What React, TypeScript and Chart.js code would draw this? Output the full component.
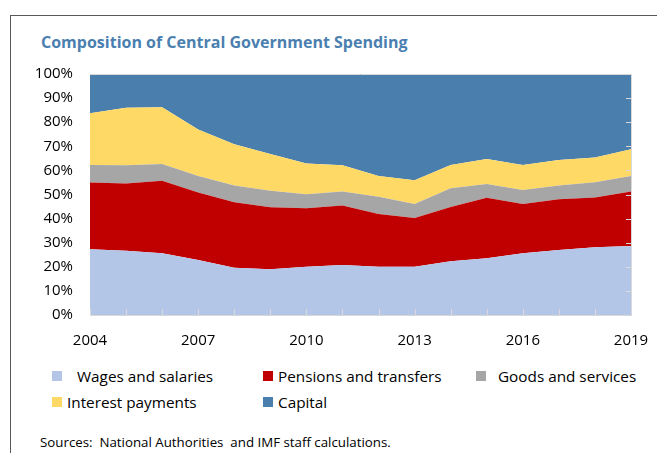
import React, { useEffect, useRef } from "react";
import { Chart, registerables } from "chart.js";

Chart.register(...registerables);

const years = ["2004","2005","2006","2007","2008","2009","2010","2011","2012","2013","2014","2015","2016","2017","2018","2019"];
const wages =     [27.3, 26.7, 25.6, 22.8, 19.6, 19.0, 20.0, 20.7, 20.0, 20.0, 22.3, 23.5, 25.6, 27.0, 28.1, 28.6];
const pensions =  [27.7, 27.9, 30.1, 28.0, 27.2, 25.7, 24.3, 24.7, 21.9, 20.2, 22.5, 25.2, 20.5, 21.0, 20.7, 22.6];
const goods =     [7.2, 7.5, 7.0, 6.9, 6.9, 6.9, 5.8, 5.8, 7.2, 5.9, 7.8, 5.7, 5.8, 5.7, 6.3, 6.5];
const interest =  [21.5, 23.9, 23.5, 19.3, 17.1, 15.2, 12.8, 10.9, 8.6, 9.8, 9.6, 10.3, 10.3, 10.6, 10.3, 11.1];
const capital =   [16.3, 14.0, 13.8, 23.0, 29.2, 33.2, 37.1, 37.9, 42.3, 44.1, 37.8, 35.3, 37.8, 35.7, 34.6, 31.2];

const seriesNames = ["Wages and salaries", "Pensions and transfers", "Goods and services", "Interest payments", "Capital"];
const seriesColors = ["#B4C6E7", "#C00000", "#A6A6A6", "#FFD966", "#4A7EAD"];
const seriesValues = [wages, pensions, goods, interest, capital];
const yTicks = [0, 10, 20, 30, 40, 50, 60, 70, 80, 90, 100];
const xLabelEvery = 3;

const FONT = "'Open Sans', 'Noto Sans', sans-serif";

const frameTicks = {
  id: "frameTicks",
  afterDatasetsDraw(chart: any) {
    const { ctx, chartArea } = chart;
    const xs = chart.scales.x;
    const ys = chart.scales.y;
    ctx.save();
    ctx.strokeStyle = "#D9D9D9";
    ctx.lineWidth = 1;
    ctx.beginPath();
    ctx.moveTo(chartArea.left, Math.round(ys.getPixelForValue(100)) + 0.5);
    ctx.lineTo(chartArea.right, Math.round(ys.getPixelForValue(100)) + 0.5);
    ctx.moveTo(chartArea.left, Math.round(ys.getPixelForValue(0)) + 0.5);
    ctx.lineTo(chartArea.right + 1, Math.round(ys.getPixelForValue(0)) + 0.5);
    ctx.moveTo(Math.round(chartArea.right) + 0.5, chartArea.top);
    ctx.lineTo(Math.round(chartArea.right) + 0.5, chartArea.bottom);
    for (let i = 0; i < years.length; i++) {
      const px = Math.round(xs.getPixelForValue(i)) + 0.5;
      const py = ys.getPixelForValue(0);
      ctx.moveTo(px, py);
      ctx.lineTo(px, py - 6);
    }
    for (const t of yTicks) {
      const py = Math.round(ys.getPixelForValue(t)) + 0.5;
      ctx.moveTo(chartArea.right, py);
      ctx.lineTo(chartArea.right - 5, py);
    }
    ctx.stroke();
    ctx.restore();
  },
};

export default function App() {
  const ref = useRef<HTMLCanvasElement | null>(null);

  useEffect(() => {
    document.body.style.margin = "0";
    document.body.style.overflow = "hidden";
    const canvas = ref.current;
    if (!canvas) return;
    const chart = new Chart(canvas, {
      type: "line",
      data: {
        labels: years,
        datasets: seriesValues.map((vals, i) => ({
          label: seriesNames[i],
          data: vals,
          backgroundColor: seriesColors[i],
          borderColor: seriesColors[i],
          borderWidth: 0,
          pointRadius: 0,
          tension: 0,
          fill: i === 0 ? "origin" : "-1",
        })),
      },
      options: {
        animation: false,
        responsive: false,
        devicePixelRatio: 1,
        layout: { padding: { top: 74, right: 26, left: 0, bottom: 0 } },
        plugins: { legend: { display: false }, tooltip: { enabled: false }, title: { display: false } },
        scales: {
          x: {
            type: "category",
            grid: { display: true, drawOnChartArea: false, drawTicks: true, tickLength: 15, color: "rgba(0,0,0,0)" },
            border: { display: false },
            ticks: {
              autoSkip: false,
              maxRotation: 0,
              padding: 2,
              color: "#000",
              font: { family: FONT, size: 15 },
              callback: (_v: any, idx: number) => (idx % xLabelEvery === 0 ? years[idx] : ""),
            },
            afterFit: (s: any) => { s.height = 45; },
          },
          y: {
            stacked: true,
            min: 0,
            max: 100,
            grid: { display: false, drawTicks: false },
            border: { display: false },
            ticks: {
              stepSize: 10,
              padding: 17,
              color: "#000",
              font: { family: FONT, size: 15 },
              callback: (v: any) => v + "%",
            },
            afterFit: (s: any) => { s.width = 90; },
          },
        },
      },
      plugins: [frameTicks],
    });
    return () => chart.destroy();
  }, []);

  const legendItems = [
    { i: 0, sx: 52, tx: 77, row: 0 },
    { i: 1, sx: 263, tx: 278, row: 0 },
    { i: 2, sx: 476, tx: 498, row: 0 },
    { i: 3, sx: 52, tx: 67, row: 1 },
    { i: 4, sx: 263, tx: 278, row: 1 },
  ];
  const rowY = [376, 402];

  return (
    <div style={{ position: "relative", width: 657, height: 453, overflow: "hidden", background: "#fff", fontFamily: FONT }}>
      <div style={{ position: "absolute", left: 10, top: 15, width: 700, height: 500, border: "1px solid #595959" }} />
      <div style={{ position: "absolute", left: 41, top: 31, fontSize: 16, fontWeight: 700, color: "#4A7FB0", whiteSpace: "nowrap" }}>
        Composition of Central Government Spending
      </div>
      <canvas ref={ref} width={657} height={360} style={{ position: "absolute", left: 0, top: 0, width: 657, height: 360 }} />
      {legendItems.map((it) => (
        <React.Fragment key={it.i}>
          <div style={{ position: "absolute", left: it.sx, top: rowY[it.row] - 5, width: 10, height: 10, background: seriesColors[it.i] }} />
          <div style={{ position: "absolute", left: it.tx, top: rowY[it.row] - 11, lineHeight: "22px", fontSize: 15.3, color: "#000", whiteSpace: "nowrap" }}>
            {seriesNames[it.i]}
          </div>
        </React.Fragment>
      ))}
      <div style={{ position: "absolute", left: 40, top: 433, lineHeight: "18px", fontSize: 13.3, color: "#000", whiteSpace: "pre" }}>
        {"Sources:  National Authorities  and IMF staff calculations."}
      </div>
    </div>
  );
}
